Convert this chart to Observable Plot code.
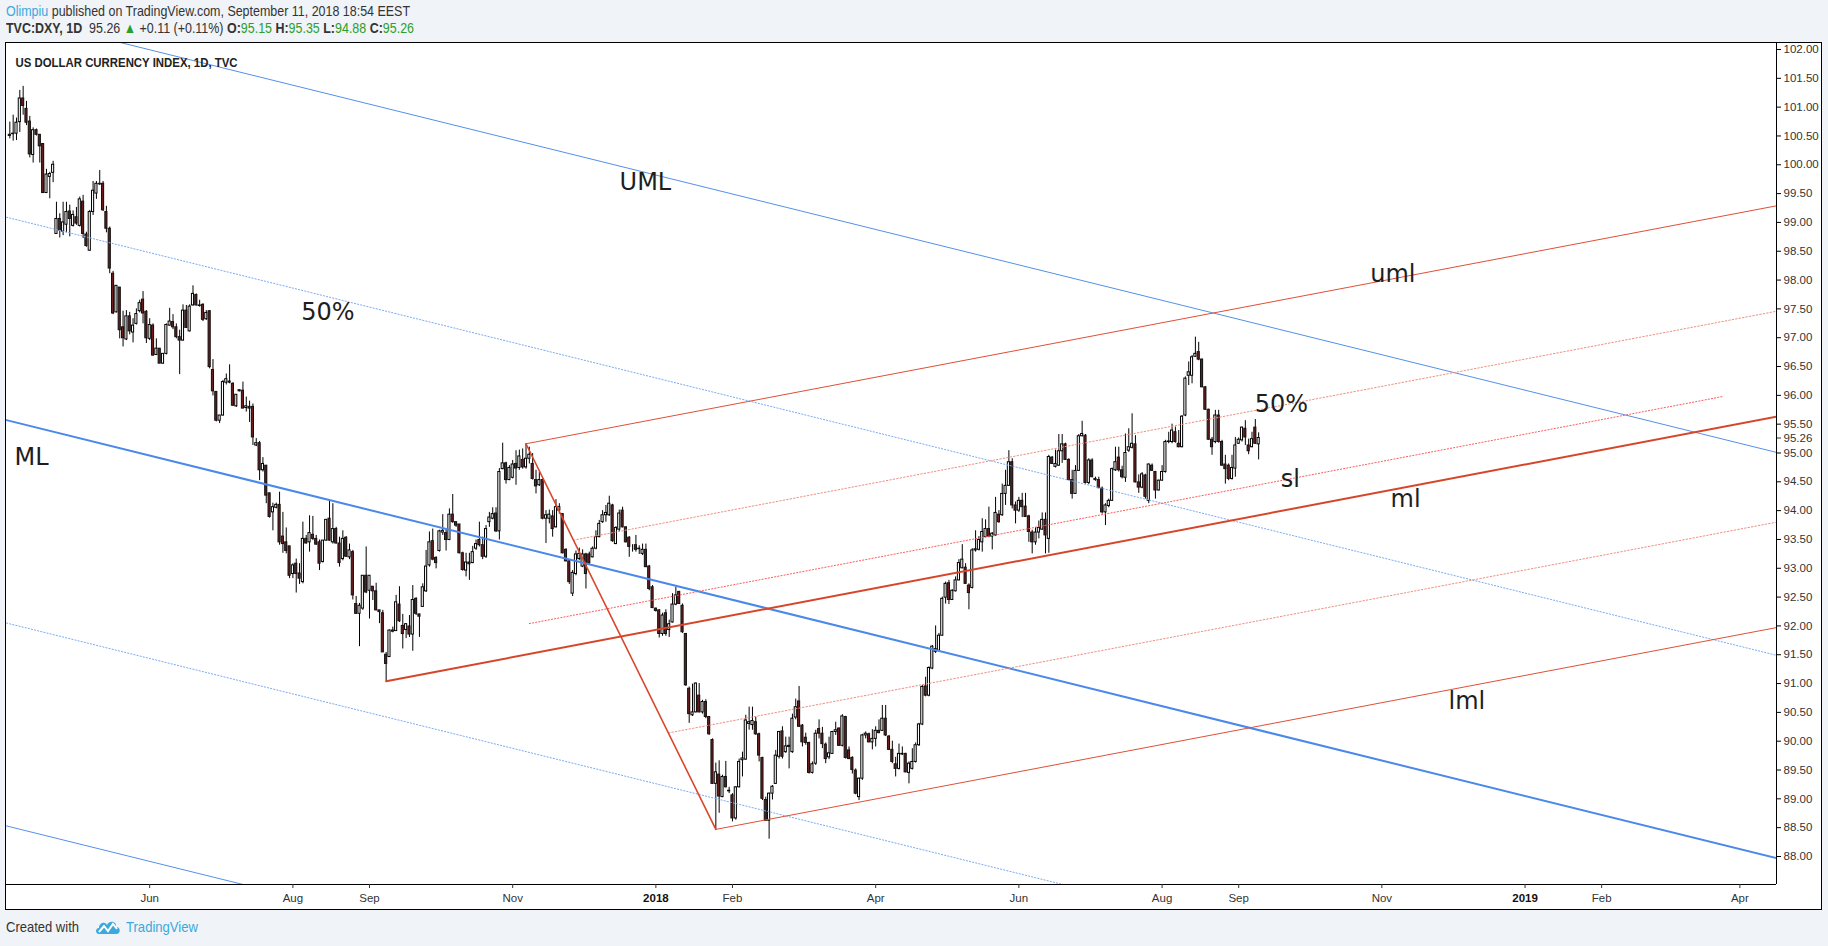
<!DOCTYPE html>
<html><head><meta charset="utf-8">
<script src="https://cdn.jsdelivr.net/npm/d3@7"></script>
<script src="https://cdn.jsdelivr.net/npm/@observablehq/plot@0.6"></script>
<style>
html,body{margin:0;padding:0}
body{background:#f0f3f7;width:1828px;height:946px;position:relative;overflow:hidden;font-family:"Liberation Sans",Arial,sans-serif;color:#333}
.hl{position:absolute;left:6px;white-space:nowrap;font-size:14.5px;transform-origin:0 50%}
#h1{top:3px}
#h2{top:20px}
.blue{color:#3ba9dd}
.g{color:#2b9f2b}
#frame{position:absolute;left:5px;top:42px;width:1815px;height:866px;border:1px solid #000;background:#fff}
#foot{position:absolute;left:6px;top:918px;font-size:14.5px;white-space:nowrap;display:flex;align-items:center}
#foot .t1{display:inline-block;transform-origin:0 50%}
#foot .t2{display:inline-block;transform-origin:0 50%;color:#3ba9dd}
</style></head><body>
<div id="h1" class="hl"><span class="blue">Olimpiu</span> published on TradingView.com, September 11, 2018 18:54 EEST</div>
<div id="h2" class="hl"><b>TVC:DXY, 1D</b>&nbsp; 95.26 <span class="g">▲</span> +0.11 (+0.11%) <b>O:</b><span class="g">95.15</span> <b>H:</b><span class="g">95.35</span> <b>L:</b><span class="g">94.88</span> <b>C:</b><span class="g">95.26</span></div>
<div id="frame"></div>
<div id="foot"><span class="t1" id="f1">Created with</span><svg width="26" height="18" viewBox="0 0 26 18" style="margin-left:8px;margin-right:5px"><path d="M4 16 C0 16 0 10 4 10 C4 5 10 3 12 7 C14 2 22 3 21 9 C26 9 26 16 21 16 Z" fill="#3ba9dd"/><polyline points="4,14 9,8 13,13 18,6 22,11" fill="none" stroke="#fff" stroke-width="2"/></svg><span class="t2" id="f2">TradingView</span></div>
<script>
// ---- OHLC data (one value per daily bar) ----
const opens = [100.52,100.54,100.54,100.74,101.15,100.97,100.75,100.17,100.60,100.52,100.36,99.51,99.79,99.86,98.80,99.06,98.84,98.96,99.19,98.94,99.09,98.94,99.36,98.79,98.51,99.18,99.50,99.67,99.67,99.18,98.89,98.11,97.44,97.87,97.18,96.97,97.37,97.09,97.24,97.46,97.66,97.45,96.98,97.21,96.70,96.81,96.55,96.72,97.21,97.27,97.18,97.01,96.95,97.47,97.11,97.56,97.74,97.56,97.57,97.32,97.46,96.44,96.06,95.56,95.65,96.22,96.24,96.20,95.81,96.09,96.08,95.78,95.80,95.80,95.13,95.17,94.70,94.78,94.30,93.97,94.05,94.10,93.55,93.45,93.38,92.90,93.08,92.91,92.76,93.51,93.45,93.58,93.51,93.45,93.11,93.48,93.86,93.45,93.68,93.43,93.16,93.53,93.19,93.28,92.38,92.21,92.30,92.87,92.61,92.68,92.60,92.27,92.22,91.50,91.46,91.90,91.91,92.37,92.00,91.93,91.99,91.85,92.47,92.20,92.33,92.60,93.05,93.47,93.18,93.30,93.62,93.61,93.49,93.93,93.80,93.76,93.26,92.96,93.10,93.09,93.34,93.49,93.40,93.20,93.80,93.86,93.95,93.64,94.72,94.82,94.53,94.57,94.81,94.74,94.88,94.75,94.90,94.81,94.53,94.44,94.53,93.86,93.86,93.90,93.71,94.00,93.94,93.32,93.12,92.56,92.90,93.16,93.03,93.24,93.24,93.19,93.34,93.54,93.80,93.92,93.92,94.09,93.42,93.67,94.00,93.71,93.53,93.34,93.40,93.34,93.25,93.32,93.03,92.67,92.30,92.27,91.86,92.22,91.93,92.06,92.37,92.59,92.35,91.86,90.91,90.45,90.50,90.79,90.50,90.68,90.42,90.02,89.26,89.42,89.03,89.38,89.13,89.06,88.66,89.20,89.67,89.68,90.30,90.28,90.33,90.12,89.71,88.98,88.62,89.09,89.26,89.73,90.17,89.81,89.92,89.81,90.41,90.69,90.27,90.06,89.97,89.45,89.61,90.21,90.13,89.94,89.72,89.78,90.16,90.22,89.92,90.42,89.84,89.71,89.49,89.03,89.35,90.10,90.12,89.98,90.04,90.18,90.18,90.39,90.08,89.85,89.60,89.52,89.77,89.78,89.45,89.52,89.64,89.93,90.29,90.95,90.79,91.26,91.60,91.57,91.83,92.49,92.74,92.45,92.60,92.79,93.00,93.01,92.70,92.66,93.31,93.32,93.45,93.54,93.68,93.55,93.57,93.93,93.92,94.29,94.43,94.84,94.09,94.00,94.17,94.07,93.90,93.62,93.45,93.62,93.67,93.84,93.51,94.92,94.76,94.78,95.03,95.15,94.88,94.53,94.29,94.69,95.29,95.30,94.48,94.87,94.55,94.53,94.38,93.97,94.08,94.17,94.70,94.92,94.70,94.57,95.04,95.09,95.15,94.49,94.40,94.61,94.17,94.78,94.67,94.35,94.52,94.67,95.19,95.19,95.36,95.16,95.10,95.65,96.34,96.34,96.67,96.75,96.62,96.14,95.75,95.23,95.19,95.65,95.19,94.80,94.78,94.55,94.73,95.16,95.22,95.42,95.13,95.10,95.44,95.15];
const highs = [100.74,100.86,100.81,101.29,101.36,101.10,100.84,100.64,100.62,100.52,100.36,99.92,99.87,100.06,99.35,99.15,99.35,99.35,99.30,99.20,99.26,99.44,99.47,98.83,99.21,99.71,99.71,99.90,99.71,99.28,98.92,98.15,97.90,97.87,97.46,97.47,97.44,97.33,97.50,97.65,97.80,97.47,97.33,97.24,96.98,96.81,96.72,97.24,97.51,97.40,97.24,97.13,97.57,97.56,97.57,97.90,97.76,97.65,97.59,97.47,97.47,96.62,96.06,95.65,96.26,96.37,96.53,96.22,96.01,96.09,96.23,95.97,95.90,95.85,95.25,95.20,94.92,94.78,94.30,94.13,94.13,94.32,93.97,93.70,93.38,93.08,93.16,93.08,93.80,93.57,93.91,93.90,93.57,93.49,93.48,93.84,94.16,94.12,93.71,93.54,93.65,93.55,93.42,93.31,92.51,92.39,92.87,93.37,92.87,92.68,92.74,92.27,92.27,91.54,91.93,91.98,92.53,92.68,92.20,92.04,92.18,92.70,92.49,92.20,92.73,93.31,93.63,93.68,93.20,93.66,93.93,93.67,94.03,94.28,93.80,93.76,93.28,93.26,93.26,93.38,93.49,93.80,93.54,93.74,93.97,94.05,94.05,94.73,95.17,94.84,94.78,94.87,95.04,95.05,95.07,95.16,95.10,94.99,94.70,94.67,94.55,94.00,94.01,94.00,94.19,94.12,93.95,93.34,93.15,92.96,93.30,93.35,93.32,93.26,93.28,93.37,93.65,93.83,94.00,94.09,94.25,94.11,93.72,94.01,94.06,93.72,93.55,93.41,93.57,93.39,93.42,93.42,93.05,92.70,92.31,92.28,92.22,92.28,92.10,92.56,92.67,92.60,92.38,91.87,90.94,90.99,91.01,91.00,90.71,90.72,90.42,90.04,89.62,89.66,89.41,89.65,89.20,89.09,89.21,89.69,89.81,90.45,90.59,90.59,90.42,90.14,89.72,89.03,89.10,89.23,89.84,90.17,90.25,90.07,90.07,90.47,90.73,90.95,90.29,90.14,89.98,89.64,90.19,90.37,90.24,89.97,90.07,90.17,90.33,90.23,90.46,90.43,89.90,89.73,89.52,89.36,90.12,90.16,90.14,90.20,90.25,90.37,90.62,90.62,90.10,90.00,89.72,89.95,89.90,89.79,89.64,89.87,89.97,90.31,90.97,91.11,91.29,91.66,92.00,91.87,92.50,92.76,92.79,92.63,92.85,93.15,93.41,93.08,92.73,93.34,93.65,93.55,93.86,93.84,94.06,93.62,94.23,94.00,94.46,94.70,95.04,94.90,94.15,94.23,94.30,94.30,93.92,93.66,93.71,93.82,93.96,93.96,94.96,94.94,95.05,95.32,95.32,95.17,94.90,94.70,94.78,95.32,95.55,95.32,94.90,94.90,94.58,94.58,94.41,94.12,94.20,94.74,95.10,95.10,94.77,95.33,95.42,95.68,95.30,94.62,94.66,94.63,94.81,94.81,94.68,94.53,94.78,95.22,95.36,95.50,95.45,95.39,95.65,96.32,96.58,96.69,97.01,96.92,96.63,96.15,95.76,95.27,95.74,95.74,95.22,94.96,94.81,94.96,95.27,95.26,95.45,95.56,95.24,95.36,95.58,95.35];
const lows = [100.45,100.41,100.42,100.56,100.86,100.68,100.12,100.03,100.50,100.03,99.50,99.50,99.41,99.69,98.80,98.73,98.77,98.82,98.75,98.92,98.95,98.92,98.72,98.57,98.50,99.12,99.40,99.64,99.19,98.82,98.11,97.40,97.43,96.98,96.84,96.95,97.05,96.91,97.22,97.43,97.24,96.90,96.95,96.68,96.69,96.55,96.54,96.70,97.20,97.14,96.98,96.36,96.94,97.16,97.10,97.55,97.55,97.53,97.28,97.30,96.46,95.99,95.54,95.51,95.64,96.18,96.20,95.81,95.79,96.06,95.77,95.71,95.53,95.13,95.11,94.52,94.67,94.12,93.87,93.65,94.03,93.40,93.26,93.25,92.82,92.82,92.57,92.72,92.73,93.42,93.28,93.48,93.40,92.96,93.09,93.47,93.47,93.42,93.42,93.02,93.13,93.19,93.15,92.45,92.20,91.64,92.27,92.56,92.12,92.44,92.26,92.04,91.54,91.04,91.45,91.88,91.91,92.06,91.60,91.78,91.80,91.56,92.18,91.80,92.32,92.58,93.02,93.13,92.99,93.28,93.57,93.30,93.48,93.78,93.71,93.25,92.95,92.85,92.79,93.08,93.31,93.37,93.15,93.17,93.71,93.84,93.62,93.49,94.71,94.46,94.52,94.55,94.44,94.70,94.72,94.72,94.81,94.53,94.29,94.42,93.84,93.43,93.77,93.54,93.70,93.94,93.25,93.11,92.72,92.51,92.87,93.13,93.01,92.64,93.06,93.18,93.32,93.53,93.78,93.80,93.90,93.45,93.41,93.64,93.70,93.44,93.19,93.28,93.28,93.24,93.22,93.01,92.61,92.30,92.24,91.79,91.82,91.82,91.80,92.05,92.35,92.37,91.87,90.95,90.31,90.43,90.49,90.49,90.47,90.39,90.10,89.25,88.47,88.75,89.02,89.19,89.09,88.60,88.63,89.19,89.38,89.67,90.19,90.19,90.10,89.64,88.97,88.61,88.30,88.98,89.25,89.69,89.69,89.79,89.52,89.79,90.37,90.24,89.90,89.93,89.43,89.43,89.58,90.04,89.87,89.61,89.68,89.77,90.10,89.91,89.90,89.69,89.68,89.43,89.07,88.97,89.32,90.04,89.97,89.85,89.90,90.13,90.17,90.08,89.84,89.61,89.38,89.50,89.75,89.45,89.26,89.50,89.62,89.91,90.27,90.77,90.77,91.24,91.52,91.56,91.82,92.38,92.37,92.44,92.59,92.78,92.99,92.72,92.28,92.64,93.28,93.30,93.28,93.53,93.53,93.32,93.55,93.78,93.90,94.09,94.42,94.03,93.77,93.97,93.88,93.88,93.45,93.25,93.40,93.51,93.66,93.25,93.26,94.80,94.74,94.77,94.82,94.87,94.52,94.20,94.28,94.68,95.28,94.46,94.45,94.57,94.51,94.38,93.94,93.74,94.05,94.16,94.68,94.67,94.55,94.49,95.01,95.07,94.48,94.30,94.38,94.20,94.12,94.68,94.20,94.34,94.51,94.65,95.16,95.16,95.17,95.09,95.09,95.63,96.17,96.20,96.66,96.60,96.13,95.74,95.22,94.96,95.16,95.17,94.77,94.46,94.52,94.53,94.58,95.15,95.19,95.13,94.97,95.09,95.15,94.88];
const closes = [100.50,100.53,100.73,101.15,101.02,100.73,100.18,100.60,100.52,100.32,99.51,99.83,99.84,100.00,99.06,98.86,99.00,99.18,99.06,99.13,98.98,99.40,98.80,98.59,99.18,99.55,99.67,99.66,99.21,98.89,98.20,97.42,97.90,97.13,96.99,97.37,97.11,97.21,97.41,97.60,97.42,96.99,97.22,96.69,96.81,96.55,96.72,97.22,97.28,97.18,97.01,96.95,97.47,97.17,97.54,97.76,97.56,97.55,97.31,97.43,96.49,96.07,95.56,95.65,96.23,96.28,96.22,95.82,96.01,96.07,95.77,95.81,95.77,95.27,95.17,94.70,94.81,94.26,93.89,94.06,94.10,93.45,93.42,93.30,92.87,93.05,92.90,92.82,93.51,93.43,93.61,93.51,93.41,93.08,93.48,93.84,93.48,93.68,93.43,93.09,93.51,93.20,93.31,92.53,92.21,92.35,92.87,92.58,92.87,92.60,92.27,92.24,91.54,91.34,91.92,91.92,92.41,92.08,91.86,92.03,91.85,92.45,92.21,92.16,92.67,93.03,93.45,93.15,93.09,93.64,93.65,93.49,93.93,93.80,93.74,93.26,92.97,93.10,93.07,93.28,93.42,93.40,93.20,93.68,93.88,93.94,93.64,94.67,94.82,94.53,94.74,94.80,94.73,94.94,94.75,94.90,94.97,94.55,94.42,94.53,93.86,93.92,93.93,93.68,94.06,94.06,93.26,93.12,92.76,92.92,93.24,93.25,93.24,92.90,93.09,93.34,93.54,93.77,93.92,93.96,94.12,93.47,93.70,93.95,93.71,93.45,93.37,93.34,93.32,93.33,93.32,93.02,92.64,92.31,92.26,91.86,92.18,91.86,92.03,92.37,92.53,92.38,91.89,90.97,90.47,90.50,91.00,90.50,90.68,90.42,90.12,89.26,89.46,89.04,89.38,89.20,89.14,88.66,89.20,89.64,89.70,90.36,90.33,90.35,90.12,89.75,89.00,88.62,89.09,89.21,89.75,90.16,89.73,89.91,89.90,90.39,90.59,90.25,89.98,89.97,89.45,89.60,90.13,90.13,89.95,89.69,89.79,90.16,90.19,89.92,90.43,89.71,89.69,89.50,89.09,89.35,90.10,90.13,89.98,90.04,90.18,90.14,90.39,90.10,89.85,89.64,89.52,89.78,89.78,89.46,89.61,89.64,89.93,90.29,90.94,90.79,91.27,91.64,91.55,91.83,92.47,92.73,92.45,92.61,92.79,93.09,93.15,92.73,92.57,93.31,93.33,93.49,93.63,93.68,93.55,93.60,93.96,93.80,94.29,94.43,94.84,94.09,94.00,94.17,94.06,93.89,93.63,93.45,93.62,93.70,93.84,93.57,94.93,94.81,94.81,95.03,95.15,94.88,94.53,94.29,94.69,95.29,95.33,94.48,94.87,94.58,94.53,94.39,93.97,94.09,94.17,94.72,94.84,94.70,94.58,95.00,95.10,95.16,94.49,94.40,94.63,94.24,94.80,94.69,94.35,94.52,94.67,95.19,95.20,95.39,95.19,95.10,95.63,96.29,96.40,96.66,96.72,96.62,96.14,95.75,95.23,95.10,95.65,95.19,94.78,94.72,94.55,94.74,95.13,95.23,95.44,95.27,95.03,95.24,95.16,95.26];

// ---- axis ticks (bar index of first bar of the month) ----
const monthTicks = [42, 85, 108, 151, 217, 260, 303, 346, 369, 412, 478, 519.5];
const monthLabels = ["Jun","Aug","Sep","Nov","Feb","Apr","Jun","Aug","Sep","Nov","Feb","Apr"];
const yearTicks = [194, 455];
const yearLabels = ["2018","2019"];
const priceTicks = d3.range(88, 102.001, 0.5);
const lastPrice = 95.26;

// ---- drawn tools: pitchfork lines as [barIndex, price] end points ----
const blueML   = [[-1, 95.57], [530.5, 87.97]];
const blueUML  = [[-1, 102.61], [530.5, 95.01]];
const blueUp50 = [[-1, 99.09], [530.5, 91.49]];
const blueLo50 = [[-1, 92.05], [530.5, 84.45]];
const blueLML  = [[-1, 88.53], [530.5, 80.93]];
const redA = [113, 91.04], redB = [155, 95.16], redC = [212, 88.47];
const redML  = [redA, [530.5, 95.63]];
const redUML = [redB, [530.5, 99.288]];
const redLML = [redC, [530.5, 91.971]];
const redBC  = [redB, redC];
const redUp50 = [[169.25, 93.4875], [530.5, 97.459]];
const redLo50 = [[197.75, 90.1425], [530.5, 93.80]];
const redSL   = [[156, 92.04], [514.6, 95.982]];
const labelText = ["UML","50%","ML","uml","50%","sl","ml","lml"];
const labelBar  = [183.1, 87.5, 1.4, 408.5, 373.8, 381.6, 414.6, 432.0];
const labelPrice= [99.571, 97.307, 94.783, 97.975, 95.707, 94.406, 94.059, 90.550];
const chartTitle = "US DOLLAR CURRENCY INDEX, 1D, TVC";

const bars = opens.map((o, i) => ({i, o, h: highs[i], l: lows[i], c: closes[i]}));
const up = bars.filter(d => d.c >= d.o), down = bars.filter(d => d.c < d.o);
const labels = labelText.map((t, k) => ({t, x: labelBar[k], y: labelPrice[k]}));
const mLab = new Map(monthTicks.map((t, k) => [t, monthLabels[k]]));
const yLab = new Map(yearTicks.map((t, k) => [t, yearLabels[k]]));
const XMAX = 530.5, YMIN = 87.514, YMAX = 102.104;

const ln = (pts, o) => Plot.line(pts, {x: d => d[0], y: d => d[1], clip: true, ...o});

const chart = Plot.plot({
  width: 1815, height: 866,
  marginLeft: 0, marginRight: 45, marginTop: 0, marginBottom: 25,
  x: {type: "linear", domain: [-1, XMAX]},
  y: {domain: [YMIN, YMAX]},
  style: {fontFamily: "Liberation Sans, Arial, sans-serif", fontSize: "11.5px", color: "#333", background: "#fff"},
  marks: [
    Plot.ruleX(bars, {x: "i", y1: "l", y2: "h", stroke: "#000", strokeWidth: 1}),
    Plot.rect(up, {x1: d => d.i - 0.32, x2: d => d.i + 0.32, y1: "o", y2: "c", fill: "#fff", stroke: "#000", strokeWidth: 1}),
    Plot.rect(down, {x1: d => d.i - 0.32, x2: d => d.i + 0.32, y1: "c", y2: "o", fill: "#6b1c1c", stroke: "#111", strokeWidth: 1}),
    ln(blueUp50, {stroke: "#7aa9f2", strokeWidth: 1, strokeDasharray: "1.2,2"}),
    ln(blueLo50, {stroke: "#7aa9f2", strokeWidth: 1, strokeDasharray: "1.2,2"}),
    ln(blueUML, {stroke: "#5590ea", strokeWidth: 1}),
    ln(blueLML, {stroke: "#5590ea", strokeWidth: 1}),
    ln(blueML, {stroke: "#4a88ea", strokeWidth: 2}),
    ln(redUp50, {stroke: "#ef8f80", strokeWidth: 1, strokeDasharray: "1.5,2"}),
    ln(redLo50, {stroke: "#ef8f80", strokeWidth: 1, strokeDasharray: "1.5,2"}),
    ln(redSL, {stroke: "#ff5a5a", strokeWidth: 1, strokeDasharray: "1.2,2"}),
    ln(redUML, {stroke: "#de5036", strokeWidth: 1}),
    ln(redLML, {stroke: "#de5036", strokeWidth: 1}),
    ln(redBC, {stroke: "#d9472c", strokeWidth: 1.6}),
    ln(redML, {stroke: "#d6452a", strokeWidth: 2}),
    Plot.text(labels, {x: "x", y: "y", text: "t", textAnchor: "start", lineAnchor: "bottom", fontFamily: "DejaVu Sans", fontSize: 24, fill: "#1e1e1e"}),
    Plot.text([chartTitle], {frameAnchor: "top-left", dx: 9, dy: 23, lineAnchor: "bottom", textAnchor: "start", fontWeight: "bold", fontSize: 13.5, fill: "#222", className: "ttl"}),
    Plot.ruleX([XMAX], {stroke: "#000", strokeWidth: 1}),
    Plot.ruleY([YMIN], {stroke: "#000", strokeWidth: 1}),
    Plot.axisY(priceTicks, {anchor: "right", tickSize: 4, tickPadding: 3, tickFormat: d => d.toFixed(2), label: null, stroke: "#000"}),
    Plot.axisY([lastPrice], {anchor: "right", tickSize: 4, tickPadding: 3, tickFormat: d => d.toFixed(2), label: null}),
    Plot.axisX(monthTicks, {anchor: "bottom", tickSize: 4, tickPadding: 5, tickFormat: d => mLab.get(d), label: null}),
    Plot.axisX(yearTicks, {anchor: "bottom", tickSize: 4, tickPadding: 5, tickFormat: d => yLab.get(d), label: null, fontWeight: "bold", fill: "#111"})
  ]
});
document.getElementById("frame").appendChild(chart);
chart.style.display = "block";
d3.select(chart).selectAll(".ttl text").attr("textLength", 222).attr("lengthAdjust", "spacingAndGlyphs");

function fit(id, w) {
  const el = document.getElementById(id);
  const r = el.getBoundingClientRect().width;
  if (r > 0) el.style.transform = `scaleX(${w / r})`;
}
fit("h1", 404); fit("h2", 408); fit("f1", 73); fit("f2", 72);
</script>
</body></html>
